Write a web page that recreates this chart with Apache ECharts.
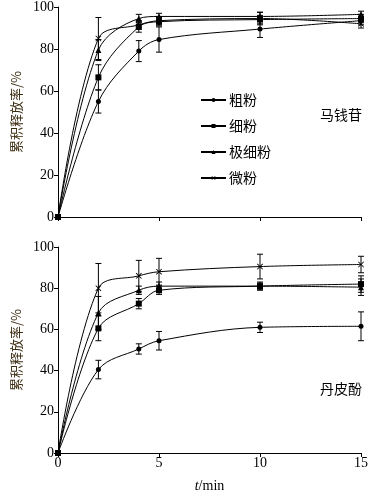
<!DOCTYPE html>
<html><head><meta charset="utf-8">
<script src="https://cdn.jsdelivr.net/npm/echarts@6/dist/echarts.min.js"></script>
<style>html,body{margin:0;padding:0;background:#fff}#c{width:374px;height:499px}</style>
</head><body><div id="c"></div>
<script>
// ---- data ----
const times = [0, 2, 4, 5, 10, 15];
const seriesNames = ['粗粉', '细粉', '极细粉', '微粉'];
const panelLabels = ['马钱苷', '丹皮酚'];
const yAxisName = '累积释放率/%';

// 马钱苷 (top panel)
const topCoarse = [0, 55, 79, 84.5, 89.5, 93.5];
const topCoarseErr = [0, 5.5, 5, 6, 4, 2];
const topFine = [0, 66.5, 90.5, 93, 94, 94.5];
const topFineErr = [0, 6, 2.5, 2, 2, 2];
const topUltra = [0, 79.5, 94.5, 95.5, 95.5, 96.5];
const topUltraErr = [0, 5, 2, 1.5, 2, 1.5];
const topMicro = [0, 85, 91.5, 93.5, 94.5, 92];
const topMicroErr = [0, 10, 2, 2, 3, 2];

// 丹皮酚 (bottom panel)
const botCoarse = [0, 40.5, 50.5, 54.5, 61, 61.5];
const botCoarseErr = [0, 4.5, 2.5, 4.5, 2.5, 7];
const botFine = [0, 60.5, 72.5, 79, 81, 82];
const botFineErr = [0, 6, 2.5, 2, 2, 4];
const botUltra = [0, 68, 79, 81, 81, 80.5];
const botUltraErr = [0, 8, 2, 2, 1.5, 4];
const botMicro = [0, 80, 86, 88, 90.5, 91.5];
const botMicroErr = [0, 12, 7.5, 6.5, 6, 4];

// ---- chart ----
const crossPath = 'path://M0,1L1,0L5,4L9,0L10,1L6,5L10,9L9,10L5,6L1,10L0,9L4,5Z';
const symbols = ['circle', 'rect', 'triangle', crossPath];
const symbolSizes = [5, 6, 6, 6];
const serif = '"Liberation Serif", "Times New Roman", serif';
const cjk = '"Noto Sans CJK SC", sans-serif';

function lineSeries(name, vals, k, g) {
  return {
    type: 'line', name: name, xAxisIndex: g, yAxisIndex: g,
    data: times.map((t, i) => [t, vals[i]]),
    smooth: 0.35, symbol: symbols[k], symbolSize: symbolSizes[k],
    showAllSymbol: true,
    lineStyle: { color: '#000', width: 1 },
    itemStyle: { color: '#000' },
    z: 4
  };
}
function errSeries(vals, errs, g) {
  return {
    type: 'custom', xAxisIndex: g, yAxisIndex: g, silent: true, z: 3, clip: false,
    data: times.map((t, i) => [t, vals[i], errs[i]]).filter(d => d[2] > 0),
    encode: { x: 0, y: 1 },
    renderItem: function (params, api) {
      const x = api.value(0), y = api.value(1), e = api.value(2);
      const p1 = api.coord([x, y + e]), p2 = api.coord([x, y - e]);
      const w = 3;
      const style = { stroke: '#000', lineWidth: 1 };
      return { type: 'group', children: [
        { type: 'line', shape: { x1: p1[0], y1: p1[1], x2: p2[0], y2: p2[1] }, style: style },
        { type: 'line', shape: { x1: p1[0] - w, y1: p1[1], x2: p1[0] + w, y2: p1[1] }, style: style },
        { type: 'line', shape: { x1: p2[0] - w, y1: p2[1], x2: p2[0] + w, y2: p2[1] }, style: style }
      ] };
    }
  };
}

const topSets = [[topCoarse, topCoarseErr], [topFine, topFineErr], [topUltra, topUltraErr], [topMicro, topMicroErr]];
const botSets = [[botCoarse, botCoarseErr], [botFine, botFineErr], [botUltra, botUltraErr], [botMicro, botMicroErr]];

const series = [];
[topSets, botSets].forEach((sets, g) => {
  sets.forEach((s, k) => {
    series.push(errSeries(s[0], s[1], g));
    series.push(lineSeries(seriesNames[k], s[0], k, g));
  });
});

function xAxis(g, showLabels) {
  return {
    type: 'value', gridIndex: g, min: 0, max: 15, interval: 5,
    axisLine: { lineStyle: { color: '#000', width: 1 } },
    axisTick: { show: true, inside: false, length: 4, lineStyle: { color: '#000' } },
    axisLabel: { show: showLabels, color: '#000', fontFamily: serif, fontSize: 14, margin: 3 },
    splitLine: { show: false },
    name: showLabels ? '{i|t}/min' : '',
    nameLocation: 'middle', nameGap: 26,
    nameTextStyle: { color: '#000', fontFamily: serif, fontSize: 14,
      rich: { i: { fontStyle: 'italic', fontFamily: serif, fontSize: 14, color: '#000' } } }
  };
}
function yAxis(g) {
  return {
    type: 'value', gridIndex: g, min: 0, max: 100, interval: 20,
    axisLine: { show: true, lineStyle: { color: '#000', width: 1 } },
    axisTick: { show: true, inside: false, length: 4, lineStyle: { color: '#000' } },
    axisLabel: { color: '#000', fontFamily: serif, fontSize: 14, margin: 4 },
    splitLine: { show: false },
    name: yAxisName, nameLocation: 'middle', nameGap: 35, nameRotate: 90,
    nameTextStyle: { color: '#3a2a10', fontFamily: cjk, fontSize: 13 }
  };
}

const chart = echarts.init(document.getElementById('c'), null, { renderer: 'canvas' });
chart.setOption({
  animation: false,
  backgroundColor: '#fff',
  title: [
    { text: panelLabels[0], left: 320, top: 108, padding: 0,
      textStyle: { color: '#000', fontFamily: cjk, fontSize: 14, fontWeight: 'normal' } },
    { text: panelLabels[1], left: 320, top: 382, padding: 0,
      textStyle: { color: '#000', fontFamily: cjk, fontSize: 14, fontWeight: 'normal' } }
  ],
  legend: {
    data: seriesNames, orient: 'vertical', left: 200, top: 93,
    itemWidth: 25, itemHeight: 5, itemGap: 12, padding: 0,
    textStyle: { color: '#000', fontFamily: cjk, fontSize: 14, padding: [0, 0, 0, -2] },
    inactiveColor: '#000'
  },
  grid: [
    { left: 58, top: 5, width: 303, height: 212, containLabel: false },
    { left: 58, top: 247, width: 303, height: 206, containLabel: false }
  ],
  xAxis: [xAxis(0, false), xAxis(1, true)],
  yAxis: [yAxis(0), yAxis(1)],
  series: series
});
</script></body></html>
